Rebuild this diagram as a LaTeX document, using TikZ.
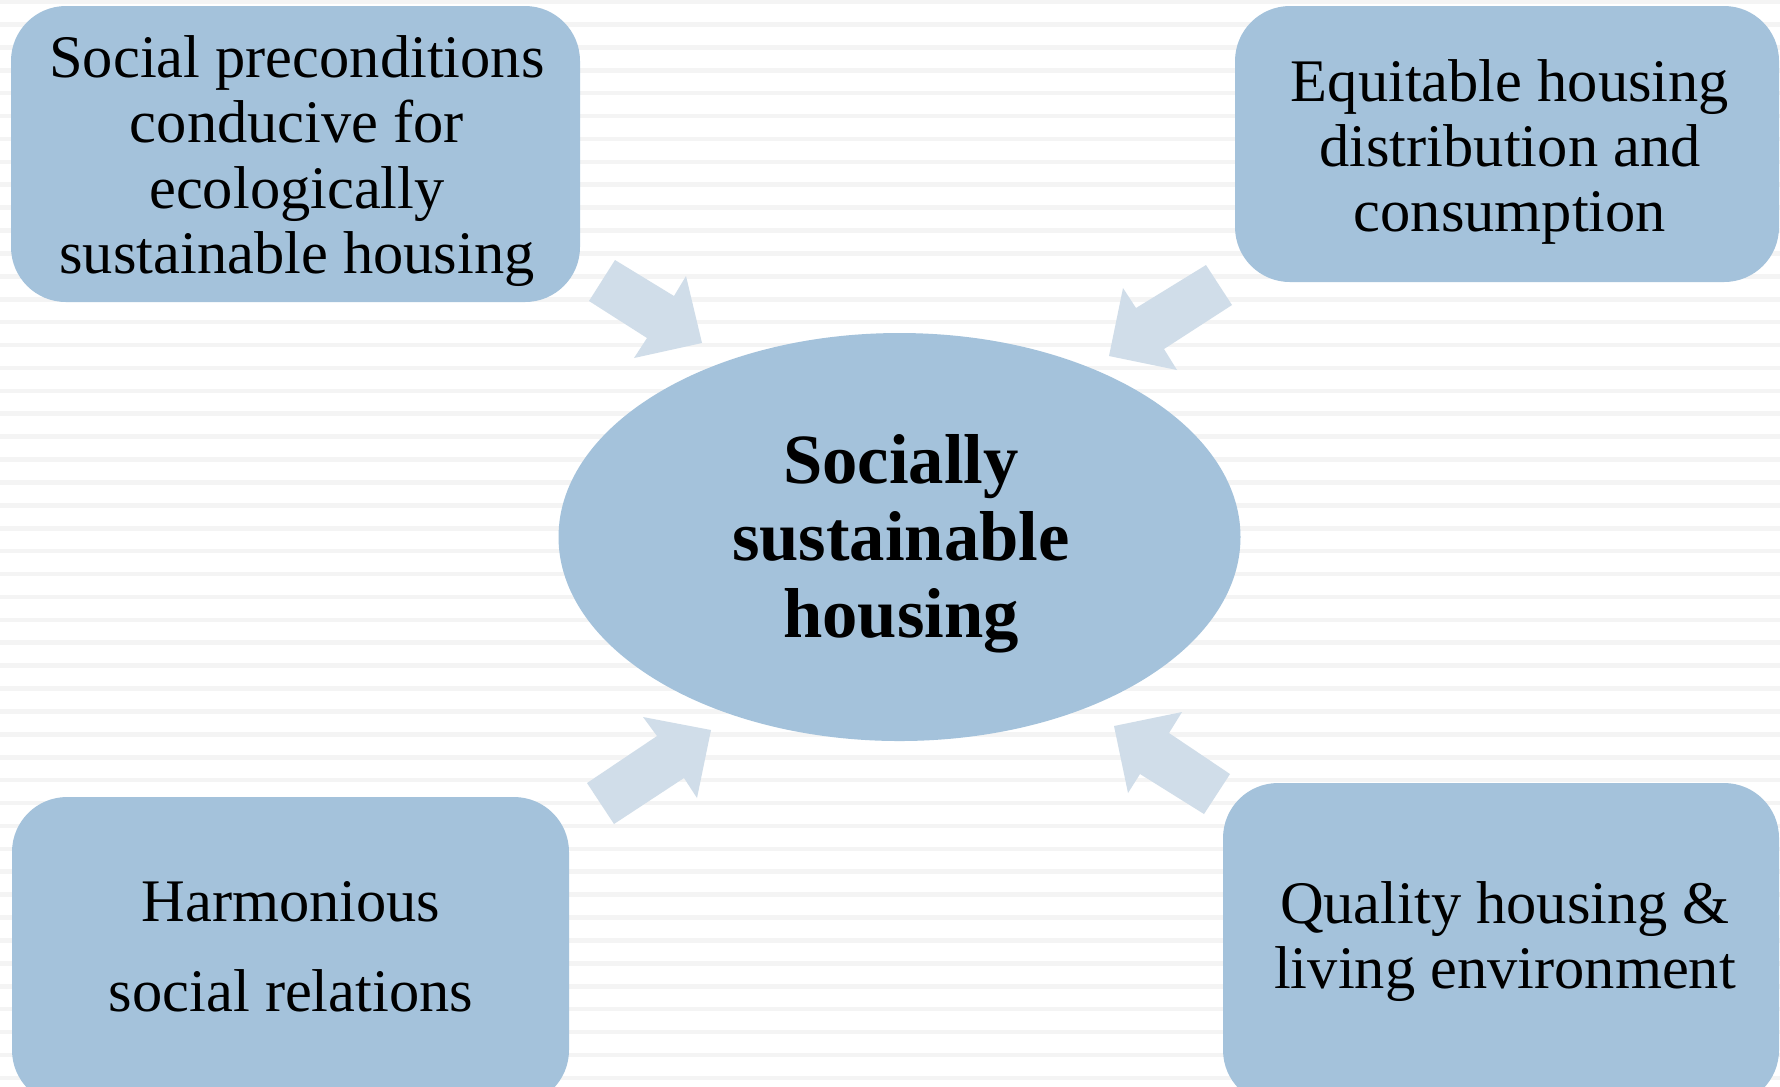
\documentclass[tikz,border=0pt]{standalone}
\usepackage{fontspec}
\setmainfont{Liberation Serif}
\usetikzlibrary{shapes.geometric}

\definecolor{boxblue}{HTML}{A4C2DB}
\definecolor{arrowblue}{HTML}{D0DDE9}
\definecolor{stripegray}{HTML}{F4F4F4}

\tikzset{
  box/.style={fill=boxblue, draw=none, rounded corners=5.5mm, inner sep=0pt},
  hub/.style={ellipse, fill=boxblue, draw=none, inner sep=0pt,
              minimum width=68.2mm, minimum height=40.8mm},
  boxtext/.style={align=center, inner sep=0pt,
                  font=\fontsize{17.2pt}{18.6pt}\selectfont},
  hubtext/.style={align=center, inner sep=0pt,
                  font=\fontsize{20.1pt}{21.9pt}\selectfont\bfseries},
  blockarrow/.style={fill=arrowblue, draw=none},
}

\begin{document}
\begin{tikzpicture}[x=0.1mm, y=-0.1mm]
  \useasboundingbox (0,0) rectangle (1780,1086);
  \clip (0,0) rectangle (1780,1086);

  % striped backdrop
  \fill[white] (0,0) rectangle (1780,1086);
  \foreach \i in {0,...,47} {
    \fill[stripegray] (0,{1.5+22.9*\i-2.3}) rectangle (1780,{1.5+22.9*\i+2.3});
  }

  % four surrounding boxes
  \node[box, minimum width=56.9mm, minimum height=29.6mm] (tl) at (295.5,154) {};
  \node[box, minimum width=54.4mm, minimum height=27.6mm] (tr) at (1507,144) {};
  \node[box, minimum width=55.7mm, minimum height=30.8mm] (bl) at (290.5,951) {};
  \node[box, minimum width=55.6mm, minimum height=32.2mm] (br) at (1501,944) {};

  % central ellipse
  \node[hub] (core) at (899.5,537) {};

  % labels
  \node[boxtext] (tltext) at (297,161)
    {Social preconditions\\conducive for\\ecologically\\sustainable housing};
  \node[boxtext] (trtext) at (1510,152)
    {Equitable housing\\distribution and\\consumption};
  \node[boxtext, font=\fontsize{17.2pt}{25.6pt}\selectfont] (bltext) at (291,946.5)
    {Harmonious\\social relations};
  \node[boxtext] (brtext) at (1505,941.5)
    {Quality housing \&\\living environment};
  \node[hubtext] (coretext) at (901,544)
    {Socially\\sustainable\\housing};

  % block arrows pointing at the ellipse
  \fill[blockarrow] (615,260) -- (674,296) -- (686,276) -- (702,343)
                    -- (634,358) -- (647,338) -- (589,301) -- cycle;
  \fill[blockarrow] (1206,265) -- (1232,305) -- (1164,349) -- (1177,370)
                    -- (1109,356) -- (1123,288) -- (1136,308) -- cycle;
  \fill[blockarrow] (587,783) -- (657,736) -- (643,717) -- (711,730)
                    -- (697,798) -- (684,778) -- (614,824) -- cycle;
  \fill[blockarrow] (1230,774) -- (1169,733) -- (1182,712) -- (1114,726)
                    -- (1128,793) -- (1140,774) -- (1204,814) -- cycle;
\end{tikzpicture}
\end{document}
